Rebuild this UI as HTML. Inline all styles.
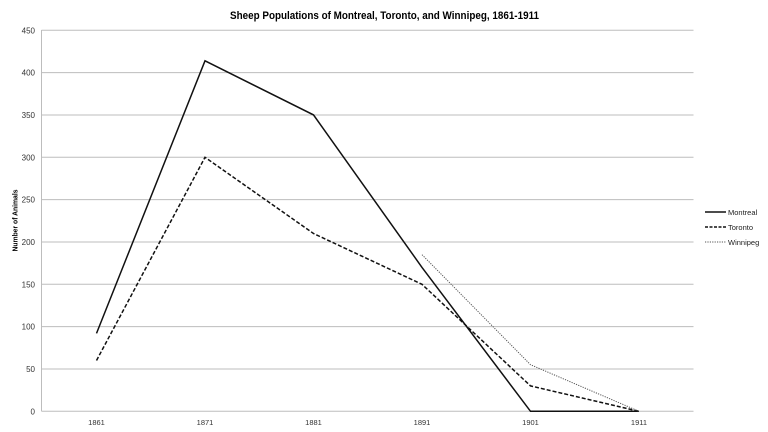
<!DOCTYPE html>
<html>
<head>
<meta charset="utf-8">
<style>
html,body{margin:0;padding:0;background:#fff;}
svg{display:block;}
text{font-family:"Liberation Sans",sans-serif;}
</style>
</head>
<body>
<svg width="768" height="432" viewBox="0 0 768 432" xmlns="http://www.w3.org/2000/svg">
<rect width="768" height="432" fill="#fff"/>
<text x="384.5" y="19" font-size="11" font-weight="bold" text-anchor="middle" fill="#000" textLength="309" lengthAdjust="spacingAndGlyphs">Sheep Populations of Montreal, Toronto, and Winnipeg, 1861-1911</text>
<!-- gridlines -->
<g stroke="#bdbdbd" stroke-width="1">
<line x1="41.5" y1="30.3" x2="693.5" y2="30.3"/>
<line x1="41.5" y1="72.6" x2="693.5" y2="72.6"/>
<line x1="41.5" y1="115" x2="693.5" y2="115"/>
<line x1="41.5" y1="157.3" x2="693.5" y2="157.3"/>
<line x1="41.5" y1="199.6" x2="693.5" y2="199.6"/>
<line x1="41.5" y1="242" x2="693.5" y2="242"/>
<line x1="41.5" y1="284.3" x2="693.5" y2="284.3"/>
<line x1="41.5" y1="326.6" x2="693.5" y2="326.6"/>
<line x1="41.5" y1="369" x2="693.5" y2="369"/>
<line x1="41.5" y1="411.3" x2="693.5" y2="411.3"/>
<line x1="41.5" y1="30" x2="41.5" y2="411.3"/>
</g>
<!-- y labels -->
<g font-size="8" fill="#333" text-anchor="end">
<text x="35" y="33.3">450</text>
<text x="35" y="75.6">400</text>
<text x="35" y="118">350</text>
<text x="35" y="160.3">300</text>
<text x="35" y="202.6">250</text>
<text x="35" y="245">200</text>
<text x="35" y="287.3">150</text>
<text x="35" y="329.6">100</text>
<text x="35" y="372">50</text>
<text x="35" y="414.3">0</text>
</g>
<!-- x labels -->
<g font-size="7.5" fill="#333" text-anchor="middle">
<text x="96.5" y="425">1861</text>
<text x="205" y="425">1871</text>
<text x="313.5" y="425">1881</text>
<text x="422" y="425">1891</text>
<text x="530.5" y="425">1901</text>
<text x="639" y="425">1911</text>
</g>
<text transform="translate(17.5,220.5) rotate(-90)" font-size="7.5" font-weight="bold" text-anchor="middle" fill="#000" textLength="62" lengthAdjust="spacingAndGlyphs">Number of Animals</text>
<!-- series -->
<polyline fill="none" stroke="#111" stroke-width="1.5" points="96.5,333.4 205,60.8 313.5,114.9 422,267.4 530.5,411.3 639,411.3"/>
<polyline fill="none" stroke="#111" stroke-width="1.5" stroke-dasharray="4,2" points="96.5,360.5 205,157.3 313.5,233.5 422,284.3 530.5,385.9 639,411.3"/>
<polyline fill="none" stroke="#555" stroke-width="1" stroke-dasharray="1.2,1.2" points="422,254.7 530.5,364.7 639,411.3"/>
<!-- legend -->
<line x1="705" y1="212" x2="726" y2="212" stroke="#111" stroke-width="1.5"/>
<line x1="705" y1="227" x2="726" y2="227" stroke="#111" stroke-width="1.5" stroke-dasharray="3,1.5"/>
<line x1="705" y1="242" x2="726" y2="242" stroke="#555" stroke-width="1" stroke-dasharray="1.2,1.2"/>
<g font-size="7.5" fill="#222">
<text x="728" y="214.8">Montreal</text>
<text x="728" y="229.8">Toronto</text>
<text x="728" y="244.8">Winnipeg</text>
</g>
</svg>
</body>
</html>
